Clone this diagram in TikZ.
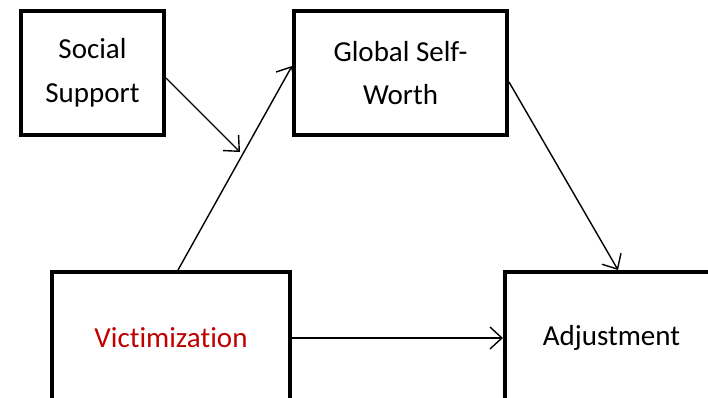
\documentclass[tikz,border=0pt]{standalone}
\usepackage{fontspec}
\setmainfont{Carlito}[Ligatures=NoCommon]
\usetikzlibrary{arrows.meta}
\definecolor{vicred}{RGB}{192,0,0}
\tikzset{
  box/.style={draw=black, line width=4pt, rectangle, align=center,
    font=\fontsize{29}{43}\selectfont, inner sep=0pt},
  conn/.style={draw=black, line width=1.4pt,
    -{Straight Barb[length=12pt, width=22pt, line width=1.4pt]}}
}
\begin{document}
\begin{tikzpicture}[x=1pt,y=-1pt]
\useasboundingbox (0,0) rectangle (708,397);
\clip (0,0) rectangle (708,397);
\node[box, minimum width=143pt, minimum height=124pt] (ss) at (92.5,73) {Social\\[1pt]Support};
\node[box, minimum width=213pt, minimum height=124pt] (gsw) at (400.5,73) {Global Self-\\Worth};
\node[box, minimum width=238pt, minimum height=132pt, text=vicred] (vic) at (171,338) {Victimization};
\node[box, minimum width=213pt, minimum height=132pt] (adj) at (611.5,338) {Adjustment};
\coordinate (mid) at (240,152);
\draw[conn] ([yshift=-5pt]ss.east) -- (mid);
\draw[conn] ([xshift=7pt]vic.north) -- ([yshift=7pt]gsw.west);
\draw[conn] ([yshift=-9pt]gsw.east) -- ([xshift=6.5pt]adj.north);
\draw[conn] (vic.east) -- (adj.west);
\end{tikzpicture}
\end{document}
